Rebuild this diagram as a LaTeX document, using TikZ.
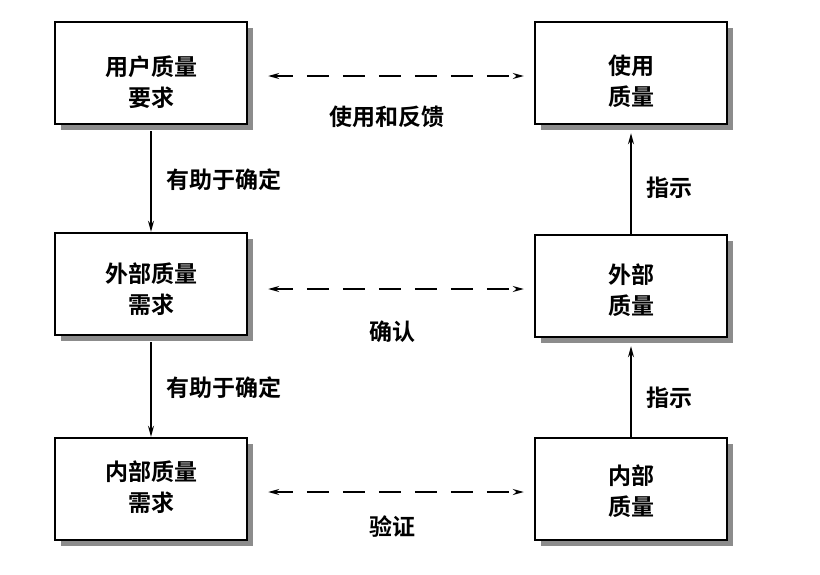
\documentclass[tikz,border=0pt]{standalone}
\usepackage{fontspec}
\setmainfont{Noto Sans CJK SC}[BoldFont={Noto Sans CJK SC Bold}]
\usetikzlibrary{arrows.meta,shadows}
\tikzset{
  qbox/.style={draw=black, line width=2.4pt, fill=white, minimum width=192pt, minimum height=102pt, inner sep=0pt,
    general shadow={fill=black!45, shadow xshift=6pt, shadow yshift=-6pt}},
  qtext/.style={align=center, inner sep=0pt, font=\fontsize{23}{31}\selectfont\bfseries},
  lbl/.style={inner sep=0pt, font=\fontsize{23}{28}\selectfont\bfseries},
  solidarr/.style={line width=1.5pt, -{Stealth[length=11pt,width=6pt]}},
  dasharr/.style={line width=1.5pt, {Stealth[length=11pt,width=6pt]}-{Stealth[length=11pt,width=6pt]}, dash pattern=on 22pt off 14pt, dash phase=4pt}
}
\begin{document}
\begin{tikzpicture}[x=1pt,y=-1pt]
\useasboundingbox (0,0) rectangle (820,574);
% boxes
\node[qbox] (ur) at (151,73) {};
\node[qbox] (ue) at (631,73) {};
\node[qbox] (er) at (151,284) {};
\node[qbox] (ee) at (631,286) {};
\node[qbox] (ir) at (151,489) {};
\node[qbox] (ie) at (631,489) {};
% box texts
\node[qtext] (tur) at (151,82) {用户质量\\要求};
\node[qtext] (tue) at (631,81) {使用\\质量};
\node[qtext] (ter) at (151,289) {外部质量\\需求};
\node[qtext] (tee) at (631,290) {外部\\质量};
\node[qtext] (tir) at (151,487) {内部质量\\需求};
\node[qtext] (tie) at (631,491) {内部\\质量};
% vertical arrows
\draw[solidarr, shorten <=6pt] (ur.south) -- (er.north);
\draw[solidarr, shorten <=6pt] (er.south) -- (ir.north);
\draw[solidarr, shorten >=8pt] (ee.north) -- (ue.south);
\draw[solidarr, shorten >=8pt] (ie.north) -- (ee.south);
% horizontal dashed arrows
\draw[dasharr, shorten <=20pt, shorten >=10pt] ([yshift=-3pt]ur.east) -- ([yshift=-3pt]ue.west);
\draw[dasharr, shorten <=20pt, shorten >=10pt] ([yshift=-5pt]er.east) -- ([yshift=-3pt]ee.west);
\draw[dasharr, shorten <=20pt, shorten >=10pt] ([yshift=-3pt]ir.east) -- ([yshift=-3pt]ie.west);
% labels
\node[lbl, anchor=west] (l1) at (166,180) {有助于确定};
\node[lbl, anchor=west] (l2) at (166,388) {有助于确定};
\node[lbl, anchor=west] (l3) at (646,188) {指示};
\node[lbl, anchor=west] (l4) at (646,398) {指示};
\node[lbl] (l5) at (387,117) {使用和反馈};
\node[lbl] (l6) at (392,332) {确认};
\node[lbl] (l7) at (392,527) {验证};
\end{tikzpicture}
\end{document}
